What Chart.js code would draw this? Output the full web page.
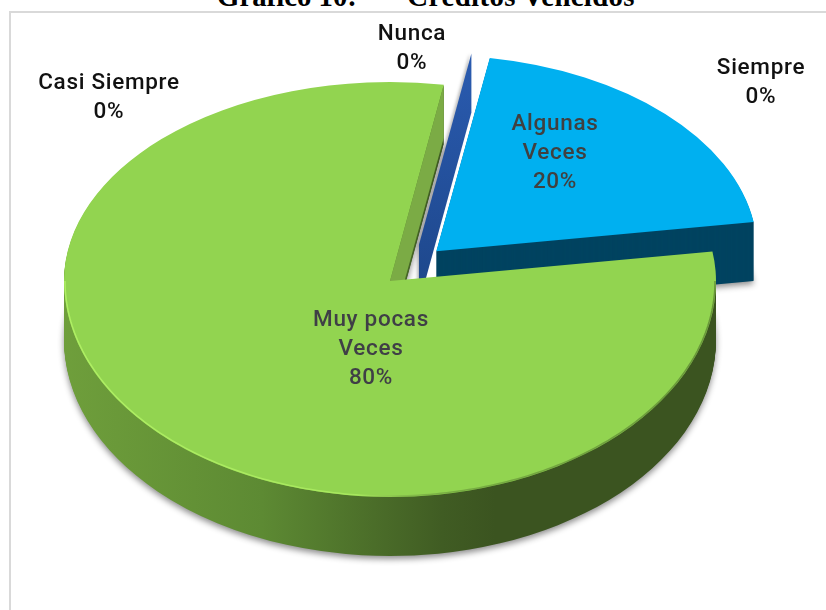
<!DOCTYPE html>
<html>
<head>
<meta charset="utf-8">
<title>Créditos Vencidos</title>
<script src="https://cdn.jsdelivr.net/npm/chart.js@4"></script>
<style>
    html, body { margin: 0; padding: 0; background: #fff; overflow: hidden; }
    #page { position: relative; width: 826px; height: 610px; overflow: hidden; }
    #frame { position: absolute; left: 9px; top: 11px; right: -4px; bottom: -4px; border: 2px solid #d9d9d9; }
    #heading {
        position: absolute; left: 217px; top: -20px; white-space: pre;
        font: bold 28.8px "Liberation Serif", serif; color: #000;
    }
    #heading span { letter-spacing: 0.35px; }
    #chart { position: absolute; left: 0; top: 0; }
</style>
</head>
<body>
<div id="page">
    <div id="frame"></div>
    <div id="heading">Gráfico 10:       <span>Créditos Vencidos</span></div>
    <canvas id="chart" width="826" height="610"></canvas>
</div>
<script>
const categories = ['Siempre', 'Algunas Veces', 'Muy pocas Veces', 'Casi Siempre', 'Nunca'];
const percents = [0, 20, 80, 0, 0];
const sliceColors = ['#5b9bd5', '#00b0f0', '#92d450', '#a5a5a5', '#2a5bb0'];
const labelLines = [['Siempre'], ['Algunas', 'Veces'], ['Muy pocas', 'Veces'], ['Casi Siempre'], ['Nunca']];

// where the tilted pie lands on the page
const pieWidth = 326;
const pieTop = 199;
const pieBottom = 216;
const depth = 59;
const backScale = 0.975;
const blueLift = 2;

// label centres (first line) and colours
const labelSpots = [[761, 68], [555, 124], [371, 320], [109, 83], [412, 34]];
const labelInks = ['#111', '#404040', '#3f3f46', '#111', '#111'];
const lineGap = 29;

// the empty Nunca slice is pulled out on its own
const sliverAngle = 26 * Math.PI / 180;
const sliverShift = 66;

// draws in squashed pie space: the far half is flatter than the near half
function tilted(ctx, arc, yShift, paint) {
    const sx = pieWidth / arc.baseRadius;
    [[pieTop, -2000], [pieBottom, 0]].forEach(([ry, clipY]) => {
        ctx.save();
        ctx.translate(arc.x, arc.y + yShift);
        ctx.beginPath();
        ctx.rect(-2000, clipY, 4000, 2000);
        ctx.clip();
        ctx.scale(sx, ry / arc.baseRadius);
        ctx.translate(-arc.x, -arc.y);
        paint();
        ctx.restore();
    });
}

function paintStack(ctx, arc, fill, lift) {
    const saved = arc.options.backgroundColor;
    arc.options.backgroundColor = fill;
    for (let y = depth; y >= 1; y--) {
        ctx.save();
        if (y === depth) {
            ctx.shadowColor = 'rgba(0,0,0,0.45)';
            ctx.shadowBlur = 6;
            ctx.shadowOffsetY = 3;
        }
        tilted(ctx, arc, y - lift, () => arc.draw(ctx));
        ctx.restore();
    }
    arc.options.backgroundColor = saved;
}

const pie3d = {
    id: 'pie3d',
    beforeDatasetsDraw(chart) {
        const ctx = chart.ctx;
        const arcs = chart.getDatasetMeta(0).data;
        const blue = arcs[1];
        const green = arcs[2];
        const nunca = arcs[4];
        const base = green.outerRadius;
        arcs.forEach(a => { a.baseRadius = base; });

        // outer wall of the big slice, shaded left to right
        const wall = ctx.createLinearGradient(62, 0, 717, 0);
        wall.addColorStop(0, '#7fb346');
        wall.addColorStop(0.18, '#70a03c');
        wall.addColorStop(0.38, '#5d8a33');
        wall.addColorStop(0.55, '#405c23');
        wall.addColorStop(0.6, '#3b5420');
        wall.addColorStop(1, '#3b5420');
        paintStack(ctx, green, wall, 0);

        // inner wall where the big slice is cut open
        const edge = green.endAngle;
        const rimX = green.x + Math.cos(edge) * pieWidth;
        const rimY = green.y + Math.sin(edge) * pieTop;
        ctx.fillStyle = '#7bab45';
        ctx.beginPath();
        ctx.moveTo(green.x, green.y);
        ctx.lineTo(rimX, rimY);
        ctx.lineTo(rimX, rimY + depth - 6);
        ctx.lineTo(green.x, green.y + depth - 6);
        ctx.closePath();
        ctx.fill();

        // Nunca: no angle at all, so only its wall shows
        const nx = nunca.x + Math.sin(sliverAngle) * sliverShift;
        const ny = nunca.y - Math.cos(sliverAngle) * sliverShift * pieTop / pieWidth;
        const tipX = nx + Math.cos(nunca.startAngle) * pieWidth * backScale;
        const tipY = ny + Math.sin(nunca.startAngle) * pieTop * backScale;
        const sliverFill = ctx.createLinearGradient(0, tipY, 0, ny + depth);
        sliverFill.addColorStop(0, sliceColors[4]);
        sliverFill.addColorStop(1, '#1d4689');
        ctx.save();
        ctx.shadowColor = 'rgba(0,0,0,0.25)';
        ctx.shadowBlur = 3;
        ctx.shadowOffsetX = -2;
        ctx.fillStyle = sliverFill;
        ctx.beginPath();
        ctx.moveTo(nx, ny);
        ctx.lineTo(tipX, tipY);
        ctx.lineTo(tipX, tipY + depth);
        ctx.lineTo(nx, ny + depth);
        ctx.closePath();
        ctx.fill();
        ctx.restore();

        // pulled out slice: its wall, then its face
        blue.outerRadius = base * backScale;
        paintStack(ctx, blue, '#004360', blueLift);
        tilted(ctx, blue, -blueLift, () => blue.draw(ctx));

        // big slice face with a light rim at the near left
        tilted(ctx, green, 0, () => green.draw(ctx));
        const rim = ctx.createLinearGradient(64, 0, 715, 0);
        rim.addColorStop(0, 'rgba(176,240,100,0.95)');
        rim.addColorStop(0.45, 'rgba(176,240,100,0.7)');
        rim.addColorStop(0.6, 'rgba(70,100,40,0.35)');
        rim.addColorStop(1, 'rgba(70,100,40,0.55)');
        ctx.save();
        ctx.strokeStyle = rim;
        ctx.lineWidth = 1.5;
        ctx.beginPath();
        for (let i = 0; i <= 180; i++) {
            const a = Math.PI * i / 180;
            ctx.lineTo(green.x + Math.cos(a) * (pieWidth - 1), green.y + Math.sin(a) * (pieBottom - 1));
        }
        ctx.stroke();
        ctx.restore();

        return false; // the flat default draw is not wanted
    },
    afterDraw(chart) {
        const ctx = chart.ctx;
        ctx.save();
        ctx.font = '500 22.5px Roboto, sans-serif';
        ctx.letterSpacing = '0.7px';
        ctx.textAlign = 'center';
        ctx.textBaseline = 'middle';
        categories.forEach((name, i) => {
            const lines = labelLines[i].concat(percents[i] + '%');
            const [x, y] = labelSpots[i];
            ctx.fillStyle = labelInks[i];
            lines.forEach((line, n) => ctx.fillText(line, x, y + n * lineGap));
        });
        ctx.restore();
    }
};

new Chart(document.getElementById('chart'), {
    type: 'pie',
    data: {
        labels: categories,
        datasets: [{
            data: percents,
            backgroundColor: sliceColors,
            borderWidth: 0,
            offset: [0, 160, 0, 0, 0]
        }]
    },
    options: {
        responsive: false,
        animation: false,
        rotation: 9.5,
        layout: { padding: { left: 0, right: 46, top: 0, bottom: 48 } },
        plugins: { legend: { display: false }, tooltip: { enabled: false } }
    },
    plugins: [pie3d]
});
</script>
</body>
</html>
